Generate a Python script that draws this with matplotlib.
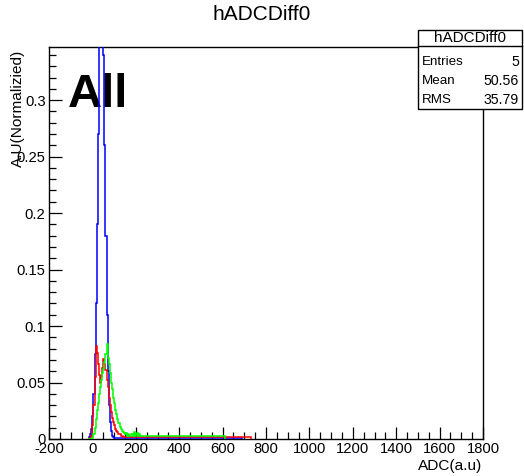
import numpy as np
import matplotlib
matplotlib.use("Agg")
import matplotlib.pyplot as plt
from matplotlib.patches import Rectangle
from matplotlib.lines import Line2D
from matplotlib.ticker import MultipleLocator, FuncFormatter

plt.rcParams['font.family'] = ['Liberation Sans', 'DejaVu Sans']

# ---- data ----
bin_start = -20
bin_width = 5
blue_core = [0, 0.002, 0.004, 0.009, 0.02, 0.04, 0.075, 0.12, 0.19, 0.27,
             0.35, 0.41, 0.43, 0.40, 0.34, 0.26, 0.18, 0.11, 0.06, 0.03,
             0.015, 0.007, 0.003, 0.002, 0.001, 0.001, 0.001, 0.001, 0.001, 0.0008,
             0.001, 0.0008, 0.0008, 0.001, 0.0008, 0.0008, 0.0008, 0.001, 0.0008, 0.0008,
             0.0008, 0.0008, 0.0008, 0.0008, 0.0008, 0.0008, 0.0008, 0.0008, 0.0008, 0.0008,
             0.0008, 0.0008]
red_core = [0, 0, 0.001, 0.003, 0.012, 0.03, 0.055, 0.082, 0.076, 0.066,
            0.057, 0.05, 0.056, 0.063, 0.071, 0.066, 0.061, 0.052, 0.046, 0.036,
            0.03, 0.024, 0.019, 0.015, 0.012, 0.009, 0.007, 0.006, 0.004, 0.004,
            0.003, 0.003, 0.002, 0.002, 0.002, 0.002, 0.0015, 0.002, 0.0015, 0.0015,
            0.002, 0.0015, 0.0015, 0.0015, 0.0015, 0.0015, 0.0015, 0.0015, 0.0015, 0.0015,
            0.0015, 0.0015]
green_core = [0, 0, 0, 0, 0.001, 0.004, 0.01, 0.018, 0.026, 0.032,
              0.04, 0.046, 0.052, 0.058, 0.062, 0.068, 0.075, 0.084, 0.072, 0.066,
              0.058, 0.05, 0.044, 0.036, 0.032, 0.026, 0.022, 0.018, 0.014, 0.011,
              0.009, 0.007, 0.006, 0.005, 0.004, 0.005, 0.003, 0.004, 0.003, 0.003,
              0.004, 0.003, 0.006, 0.003, 0.004, 0.005, 0.003, 0.004, 0.003, 0.003,
              0.003, 0.003]
blue_tail = (0.0008, 690)
red_tail = (0.0015, 730)
green_tail = (0.0027, 610)

series = [
    ("#0000ff", blue_core, blue_tail),
    ("#ff0000", red_core, red_tail),
    ("#00ff00", green_core, green_tail),
]

x_ticks = [-200, 0, 200, 400, 600, 800, 1000, 1200, 1400, 1600, 1800]
y_ticks = [0, 0.05, 0.1, 0.15, 0.2, 0.25, 0.3]
stats = [("Entries", "5"), ("Mean", "50.56"), ("RMS", "35.79")]

W, H = 524, 476
fig = plt.figure(figsize=(W / 100, H / 100), dpi=100)
ax = fig.add_axes([49 / W, 1 - 439 / H, (483 - 49) / W, (439 - 47) / H])

for color, core, (tail_level, tail_end) in series:
    edges = list(bin_start + bin_width * np.arange(len(core) + 1)) + [tail_end]
    vals = list(core) + [tail_level]
    ax.stairs(vals, edges, color=color, lw=1.1, zorder=3)

ax.set_xlim(-200, 1800)
ax.set_ylim(0, 0.347)
ax.set_xticks(x_ticks)
ax.set_yticks(y_ticks)
ax.xaxis.set_minor_locator(MultipleLocator(50))
ax.yaxis.set_minor_locator(MultipleLocator(0.01))
ax.yaxis.set_major_formatter(FuncFormatter(lambda v, p: "%g" % v))
ax.xaxis.set_major_formatter(FuncFormatter(lambda v, p: "%g" % v))
ax.tick_params(which='both', direction='in', top=False, right=False,
               labelsize=10.6, colors='black')
ax.tick_params(which='major', length=9, width=0.9, pad=2.5)
ax.tick_params(which='minor', length=5, width=0.9)
for s in ax.spines.values():
    s.set_linewidth(1.0)
    s.set_color('black')

ax.text(68 / W, 1 - 107 / H, "All", transform=fig.transFigure, fontsize=34,
        fontweight='bold', ha='left', va='baseline', zorder=1)

fig.text(262 / W, 1 - 15 / H, "hADCDiff0", fontsize=15, ha='center', va='center')
fig.text(482 / W, 1 - 466 / H, "ADC(a.u)", fontsize=11.1, ha='right', va='center')
fig.text(18 / W, 1 - 50 / H, "A.U(Normalizied)", fontsize=11.1, rotation=90,
         ha='center', va='top')

# stats box
bx0, bx1, by0, by1 = 418, 522, 30, 109
fig.patches.append(Rectangle((bx0 / W, 1 - by1 / H), (bx1 - bx0) / W, (by1 - by0) / H,
                             transform=fig.transFigure, facecolor='white',
                             edgecolor='black', lw=1.0, zorder=10))
fig.lines.append(Line2D([bx0 / W, bx1 / W], [1 - 46 / H, 1 - 46 / H],
                        transform=fig.transFigure, color='black', lw=1.0, zorder=11))
fig.text((bx0 + bx1) / 2 / W, 1 - 38 / H, "hADCDiff0", fontsize=11, ha='center',
         va='center', zorder=12)
for (lab, val), yy in zip(stats, [62, 81, 100]):
    fig.text(422 / W, 1 - yy / H, lab, fontsize=9.6, ha='left', va='center', zorder=12)
    fig.text(519 / W, 1 - yy / H, val, fontsize=10.2, ha='right', va='center', zorder=12)

fig.savefig("out.png", dpi=100)
